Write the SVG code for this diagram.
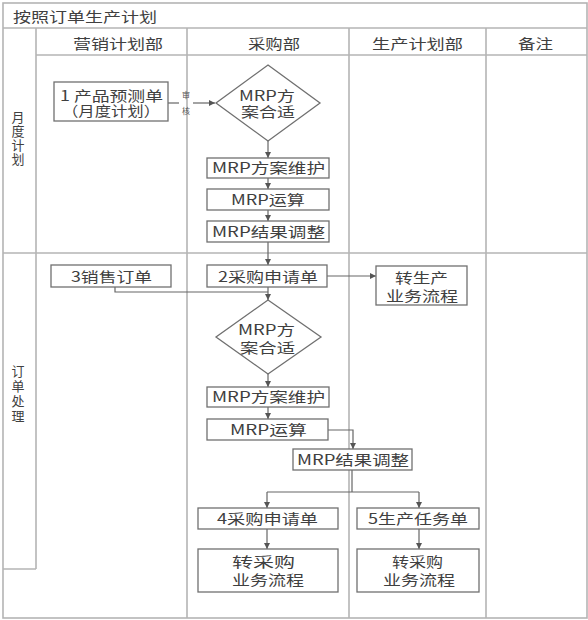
<svg xmlns="http://www.w3.org/2000/svg" width="588" height="620" viewBox="0 0 588 620">
<defs>
<marker id="ah" viewBox="0 0 8 8" refX="8" refY="4" markerWidth="6" markerHeight="6" orient="auto" markerUnits="userSpaceOnUse">
<path d="M0,0 L8,4 L0,8 z" fill="#555"/>
</marker>
<style>
.grid{stroke:#b4b4b4;stroke-width:1.6;fill:none}
.box{fill:#fff;stroke:#707070;stroke-width:1.3}
.t{font-family:"Noto Sans CJK SC","Liberation Sans",sans-serif;font-size:14px;fill:#404040}
.v{font-family:"Noto Sans CJK SC",sans-serif;font-size:13px;fill:#404040;writing-mode:vertical-rl}
.conn{stroke:#666;stroke-width:1.2;fill:none}
.sm{font-family:"Noto Sans CJK SC",sans-serif;font-size:8px;fill:#555;writing-mode:vertical-rl;letter-spacing:8px}
</style>
</defs>
<rect width="588" height="620" fill="#fff"/>
<g id="table">
<rect class="grid" x="3" y="3" width="584" height="615"/>
<line class="grid" x1="3" y1="28" x2="587" y2="28"/>
<line class="grid" x1="36" y1="55" x2="587" y2="55"/>
<line class="grid" x1="36" y1="28" x2="36" y2="569"/>
<line class="grid" x1="3" y1="569" x2="36" y2="569"/>
<line class="grid" x1="187" y1="28" x2="187" y2="618"/>
<line class="grid" x1="349" y1="28" x2="349" y2="618"/>
<line class="grid" x1="486" y1="28" x2="486" y2="618"/>
<line class="grid" x1="3" y1="253" x2="587" y2="253"/>
<text class="t" x="13" y="22" textLength="144" lengthAdjust="spacingAndGlyphs">按照订单生产计划</text>
<text class="t" x="73" y="49" textLength="90" lengthAdjust="spacingAndGlyphs">营销计划部</text>
<text class="t" x="248" y="49" textLength="52" lengthAdjust="spacingAndGlyphs">采购部</text>
<text class="t" x="372" y="49" textLength="91" lengthAdjust="spacingAndGlyphs">生产计划部</text>
<text class="t" x="518" y="49" textLength="35" lengthAdjust="spacingAndGlyphs">备注</text>
<text class="v" x="18" y="111" style="letter-spacing:1px">月度计划</text>
<text class="v" x="18" y="365" style="letter-spacing:2px">订单处理</text>
</g>
<g id="connectors">
<line class="conn" x1="168" y1="103" x2="179" y2="103"/>
<line class="conn" x1="193" y1="103" x2="215" y2="103" marker-end="url(#ah)"/>
<line class="conn" x1="268" y1="141" x2="268" y2="158" marker-end="url(#ah)"/>
<line class="conn" x1="268" y1="178" x2="268" y2="189" marker-end="url(#ah)"/>
<line class="conn" x1="268" y1="210" x2="268" y2="221" marker-end="url(#ah)"/>
<line class="conn" x1="268" y1="242" x2="268" y2="265" marker-end="url(#ah)"/>
<line class="conn" x1="268" y1="287" x2="268" y2="300" marker-end="url(#ah)"/>
<polyline class="conn" points="115,287 115,292 268,292"/>
<line class="conn" x1="327" y1="276" x2="376" y2="276" marker-end="url(#ah)"/>
<line class="conn" x1="268" y1="374" x2="268" y2="387" marker-end="url(#ah)"/>
<line class="conn" x1="268" y1="407" x2="268" y2="419" marker-end="url(#ah)"/>
<polyline class="conn" points="328,430 353,430 353,449" marker-end="url(#ah)"/>
<line class="conn" x1="352" y1="470" x2="352" y2="492"/>
<line class="conn" x1="267" y1="492" x2="419" y2="492"/>
<line class="conn" x1="267" y1="492" x2="267" y2="508" marker-end="url(#ah)"/>
<line class="conn" x1="419" y1="492" x2="419" y2="508" marker-end="url(#ah)"/>
<line class="conn" x1="267" y1="529" x2="267" y2="549" marker-end="url(#ah)"/>
<line class="conn" x1="419" y1="529" x2="419" y2="549" marker-end="url(#ah)"/>
<text class="sm" x="186" y="91">审核</text>
</g>
<g id="n1">
<rect class="box" x="54" y="82" width="114" height="39"/>
<text class="t"><tspan x="60" y="101" textLength="103" lengthAdjust="spacingAndGlyphs">1 产品预测单</tspan><tspan x="62" y="116" textLength="98" lengthAdjust="spacingAndGlyphs">（月度计划）</tspan></text>
</g>
<g id="d1">
<polygon class="box" points="268,65 320,103 268,141 216,103"/>
<text class="t"><tspan x="239" y="101" textLength="56" lengthAdjust="spacingAndGlyphs">MRP方</tspan><tspan x="241" y="117" textLength="54" lengthAdjust="spacingAndGlyphs">案合适</tspan></text>
</g>
<g id="m1">
<rect class="box" x="207" y="158" width="122" height="20"/>
<text class="t" x="212" y="173" textLength="113" lengthAdjust="spacingAndGlyphs">MRP方案维护</text>
</g>
<g id="r1">
<rect class="box" x="207" y="189" width="122" height="21"/>
<text class="t" x="231" y="205" textLength="74" lengthAdjust="spacingAndGlyphs">MRP运算</text>
</g>
<g id="a1">
<rect class="box" x="207" y="221" width="122" height="21"/>
<text class="t" x="212" y="237" textLength="113" lengthAdjust="spacingAndGlyphs">MRP结果调整</text>
</g>
<g id="n3">
<rect class="box" x="51" y="265" width="120" height="22"/>
<text class="t" x="71" y="282" textLength="81" lengthAdjust="spacingAndGlyphs">3销售订单</text>
</g>
<g id="n2">
<rect class="box" x="207" y="265" width="120" height="22"/>
<text class="t" x="218" y="282" textLength="100" lengthAdjust="spacingAndGlyphs">2采购申请单</text>
</g>
<g id="p1">
<rect class="box" x="376" y="266" width="91" height="39"/>
<text class="t"><tspan x="395" y="283" textLength="53" lengthAdjust="spacingAndGlyphs">转生产</tspan><tspan x="386" y="301" textLength="72" lengthAdjust="spacingAndGlyphs">业务流程</tspan></text>
</g>
<g id="d2">
<polygon class="box" points="268,300 321,337 268,374 216,337"/>
<text class="t"><tspan x="238" y="335" textLength="57" lengthAdjust="spacingAndGlyphs">MRP方</tspan><tspan x="240" y="353" textLength="55" lengthAdjust="spacingAndGlyphs">案合适</tspan></text>
</g>
<g id="m2">
<rect class="box" x="207" y="387" width="122" height="20"/>
<text class="t" x="212" y="402" textLength="113" lengthAdjust="spacingAndGlyphs">MRP方案维护</text>
</g>
<g id="r2">
<rect class="box" x="207" y="419" width="121" height="21"/>
<text class="t" x="230" y="435" textLength="77" lengthAdjust="spacingAndGlyphs">MRP运算</text>
</g>
<g id="a2">
<rect class="box" x="293" y="449" width="119" height="21"/>
<text class="t" x="297" y="465" textLength="112" lengthAdjust="spacingAndGlyphs">MRP结果调整</text>
</g>
<g id="n4">
<rect class="box" x="198" y="508" width="140" height="21"/>
<text class="t" x="217" y="524" textLength="101" lengthAdjust="spacingAndGlyphs">4采购申请单</text>
</g>
<g id="n5">
<rect class="box" x="357" y="508" width="122" height="21"/>
<text class="t" x="368" y="524" textLength="100" lengthAdjust="spacingAndGlyphs">5生产任务单</text>
</g>
<g id="p2">
<rect class="box" x="198" y="549" width="140" height="43"/>
<text class="t"><tspan x="232" y="567" textLength="63" lengthAdjust="spacingAndGlyphs">转采购</tspan><tspan x="232" y="585" textLength="72" lengthAdjust="spacingAndGlyphs">业务流程</tspan></text>
</g>
<g id="p3">
<rect class="box" x="357" y="549" width="122" height="43"/>
<text class="t"><tspan x="392" y="567" textLength="51" lengthAdjust="spacingAndGlyphs">转采购</tspan><tspan x="383" y="585" textLength="72" lengthAdjust="spacingAndGlyphs">业务流程</tspan></text>
</g>
</svg>
